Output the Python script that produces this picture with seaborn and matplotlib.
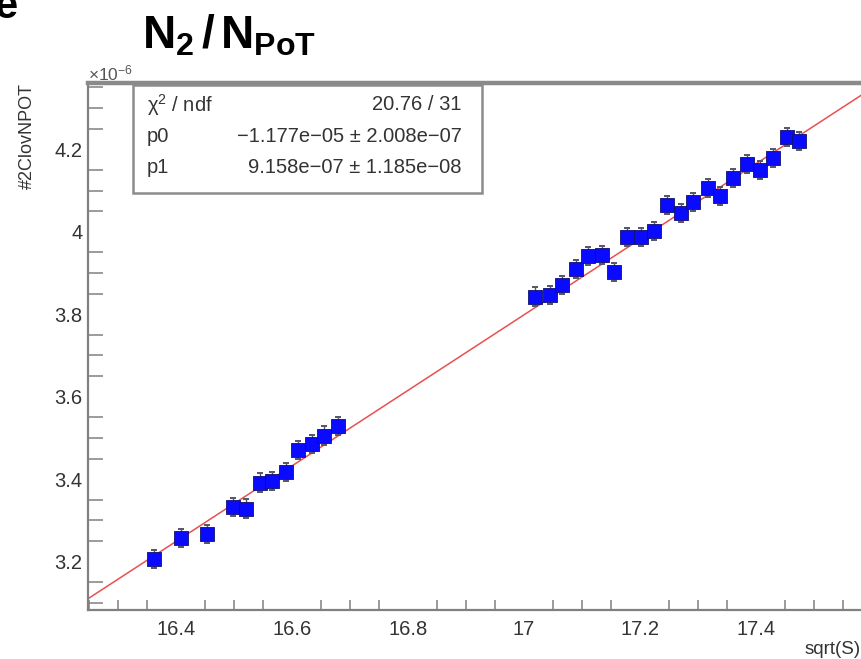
import matplotlib
matplotlib.use("Agg")
import matplotlib.pyplot as plt
import seaborn as sns
import numpy as np
import pandas as pd

# ---- data (y in units of 1e-6) ----
sqrt_s = [16.362, 16.409, 16.453, 16.498, 16.520, 16.544, 16.565, 16.589, 16.610,
          16.634, 16.656, 16.680, 17.019, 17.044, 17.065, 17.090, 17.111, 17.134,
          17.156, 17.178, 17.202, 17.225, 17.247, 17.271, 17.292, 17.317, 17.338,
          17.361, 17.384, 17.407, 17.429, 17.453, 17.475]
ratio = [3.206, 3.258, 3.267, 3.333, 3.329, 3.392, 3.396, 3.417, 3.471,
         3.485, 3.506, 3.529, 3.843, 3.847, 3.871, 3.910, 3.941, 3.944,
         3.903, 3.988, 3.988, 4.002, 4.065, 4.045, 4.073, 4.107, 4.087,
         4.130, 4.164, 4.150, 4.178, 4.229, 4.221]
ratio_err = [0.022, 0.022, 0.022, 0.022, 0.022, 0.022, 0.022, 0.022, 0.022,
             0.022, 0.022, 0.022, 0.022, 0.022, 0.022, 0.022, 0.022, 0.022,
             0.022, 0.022, 0.022, 0.022, 0.022, 0.022, 0.022, 0.022, 0.022,
             0.022, 0.022, 0.022, 0.022, 0.022, 0.022]
fit_p0 = -1.177e-05
fit_p1 = 9.158e-07
stats_labels = ["χ$^2$ / ndf", "p0", "p1"]
stats_values = ["20.76 / 31", "−1.177e−05 ± 2.008e−07", "9.158e−07 ± 1.185e−08"]
x_ticks = [16.4, 16.6, 16.8, 17.0, 17.2, 17.4]
x_ticklabels = ["16.4", "16.6", "16.8", "17", "17.2", "17.4"]
y_ticks = [3.2, 3.4, 3.6, 3.8, 4.0, 4.2]
y_ticklabels = ["3.2", "3.4", "3.6", "3.8", "4", "4.2"]

sns.set_theme(style="white")
plt.rcParams['font.family'] = ['Liberation Sans', 'DejaVu Sans']
plt.rcParams['mathtext.fontset'] = 'custom'
plt.rcParams['mathtext.rm'] = 'Liberation Sans'
plt.rcParams['mathtext.it'] = 'Liberation Sans:italic'
plt.rcParams['mathtext.bf'] = 'Liberation Sans:bold'

W, H = 862, 659
fig = plt.figure(figsize=(W / 100, H / 100), dpi=100)

xmin, xmax = 16.2483, 17.62
ymin, ymax = 3.0829, 4.36
ax_left, ax_right_px = 88, 176 + (xmax - 16.4) * 580
ax_top, ax_bot = 83.3, 610
ax = fig.add_axes([ax_left / W, 1 - ax_bot / H, (ax_right_px - ax_left) / W, (ax_bot - ax_top) / H])
ax.set_xlim(xmin, xmax)
ax.set_ylim(ymin, ymax)

df = pd.DataFrame({"sqrt_s": sqrt_s, "ratio": ratio, "err": ratio_err})

# fit line
xl = np.array([xmin, xmax])
fit_df = pd.DataFrame({"x": xl, "y": (fit_p0 + fit_p1 * xl) * 1e6})
sns.lineplot(data=fit_df, x="x", y="y", ax=ax, color="#e8504f", lw=1.1, zorder=2)

# error bars
ax.errorbar(df["sqrt_s"], df["ratio"], yerr=df["err"], fmt="none", ecolor="#555566",
            elinewidth=1.0, capsize=2.4, capthick=1.4, zorder=3)
# markers
sns.scatterplot(data=df, x="sqrt_s", y="ratio", ax=ax, marker="s", s=100,
                color="#0a0aff", edgecolor="#101070", linewidth=0.6, zorder=4, legend=False)

ax.set_xlabel("")
ax.set_ylabel("")

# ticks
ax.set_xticks(x_ticks)
ax.set_xticklabels(x_ticklabels)
ax.set_yticks(y_ticks)
ax.set_yticklabels(y_ticklabels)
ax.set_xticks(np.arange(16.25, 17.62, 0.05), minor=True)
ax.set_yticks(np.arange(3.10, 4.36, 0.05), minor=True)
ax.tick_params(axis="both", which="major", direction="in", colors="#808080",
               labelcolor="#333333", labelsize=14.5, width=1.3)
ax.tick_params(axis="x", which="major", length=13, pad=7)
ax.tick_params(axis="y", which="major", length=22, pad=4)
ax.tick_params(axis="x", which="minor", direction="in", length=7, width=1.1, colors="#808080", bottom=True)
ax.tick_params(axis="y", which="minor", direction="in", length=11, width=1.1, colors="#808080", left=True)

for side in ["left", "bottom"]:
    ax.spines[side].set_color("#808080")
    ax.spines[side].set_linewidth(1.6)
ax.spines["top"].set_color("#8a8a8a")
ax.spines["top"].set_linewidth(3.2)
ax.spines["right"].set_visible(False)

# stats box
bx0, bx1, by0, by1 = 133, 482, 85, 193
box = plt.Rectangle((bx0 / W, 1 - by1 / H), (bx1 - bx0) / W, (by1 - by0) / H,
                    transform=fig.transFigure, facecolor="white", edgecolor="#8c8c8c",
                    lw=1.8, zorder=10)
fig.add_artist(box)
rows_y = [105, 137, 168]
for lab, val, ry in zip(stats_labels, stats_values, rows_y):
    fig.text(147 / W, 1 - ry / H, lab, ha="left", va="center", fontsize=14.5,
             color="#333333", zorder=11)
    fig.text(462 / W, 1 - ry / H, val, ha="right", va="center", fontsize=14.5,
             color="#333333", zorder=11)

# exponent label
fig.text(88 / W, 1 - 73 / H, r"×10$^{-6}$", ha="left", va="center", fontsize=12.5, color="#555555")

# axis titles
fig.text(27 / W, 1 - 83 / H, "#2ClovNPOT", rotation=90, ha="center", va="top",
         fontsize=13, color="#333333")
fig.text(861 / W, 1 - 649 / H, "sqrt(S)", ha="right", va="center", fontsize=13.5, color="#333333")

# title
fig.text(229 / W, 1 - 36 / H, r"$\mathbf{N_2\,/\,N_{PoT}}$", ha="center", va="center",
         fontsize=33, color="black")
# panel letter (cropped at the corner, as in the reference)
fig.text(18 / W, 1 - 18 / H, "e", ha="right", va="baseline", fontsize=30,
         fontweight="bold", color="black")

fig.savefig("out.png", dpi=100)
